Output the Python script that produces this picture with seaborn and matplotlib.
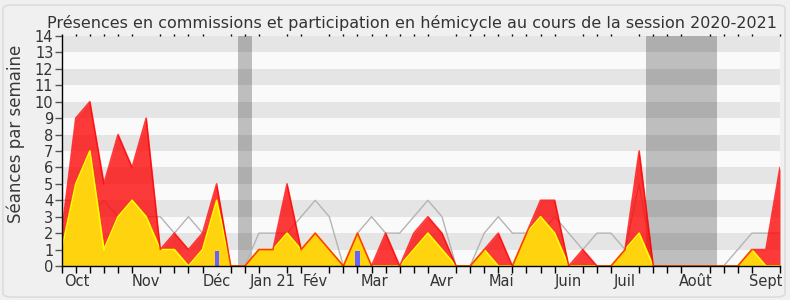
import numpy as np
import pandas as pd
import matplotlib
matplotlib.use("Agg")
import matplotlib.pyplot as plt
import seaborn as sns
from matplotlib.patches import FancyBboxPatch

# ---- data (weekly, session 2020-2021) ----
weeks = list(range(52))
seances_total = [2, 9, 10, 5, 8, 6, 9, 1, 2, 1, 2, 5, 0, 0, 1, 1, 5, 1, 2, 1,
                 0, 2, 0, 2, 0, 2, 3, 2, 0, 0, 1, 2, 0, 2, 4, 4, 0, 1, 0, 0,
                 1, 7, 0, 0, 0, 0, 0, 0, 0, 1, 1, 6]
hemicycle = [1, 5, 7, 1, 3, 4, 3, 1, 1, 0, 1, 4, 0, 0, 1, 1, 2, 1, 2, 1,
             0, 2, 0, 0, 0, 1, 2, 1, 0, 0, 1, 0, 0, 2, 3, 2, 0, 0, 0, 0,
             1, 2, 0, 0, 0, 0, 0, 0, 0, 1, 0, 0]
mediane = [4, 4, 3, 4, 3, 3, 3, 3, 2, 3, 2, 2, 0, 0, 2, 2, 2, 3, 4, 3,
           0, 2, 3, 2, 2, 3, 4, 3, 0, 0, 2, 3, 2, 2, 2, 3, 2, 1, 2, 2,
           1, 5, 0, 0, 0, 0, 0, 0, 1, 2, 2, 2]
questions_weeks = [11, 21]
questions_vals = [0.9, 0.9]
vacances = [(12.5, 13.5), (41.5, 46.5)]
month_labels = ["Oct", "Nov", "Déc", "Jan 21", "Fév", "Mar", "Avr", "Mai",
                "Juin", "Juil", "Août", "Sept"]
month_pos = [1.1, 6, 11, 15, 18, 22.2, 27, 31.2, 36, 40, 45, 50]
title = "Présences en commissions et participation en hémicycle au cours de la session 2020-2021"
ylabel = "Séances par semaine"

df = pd.DataFrame({"semaine": weeks, "total": seances_total,
                   "hemicycle": hemicycle, "mediane": mediane})

sns.set_style("white")
plt.rcParams["font.family"] = ["DejaVu Sans"]

W, H = 790, 300
fig = plt.figure(figsize=(W / 100, H / 100), dpi=100)
fig.patch.set_facecolor("#f0f0f0")
fig.patches.append(FancyBboxPatch((3 / W, 3 / H), 1 - 8 / W, 1 - 8 / H,
                                  boxstyle="round,pad=0,rounding_size=0.012",
                                  transform=fig.transFigure, facecolor="none",
                                  edgecolor="#dcdcdc", lw=1.2))

L, R, B, T = 61.7, 780, 266, 36
ax = fig.add_axes([L / W, 1 - B / H, (R - L) / W, (B - T) / H])
ax.set_facecolor("#fafafa")
for k in range(1, 14, 2):
    ax.axhspan(k, k + 1, color="#e5e5e5", lw=0, zorder=0)
for a, b in vacances:
    ax.axvspan(a, b, color="black", alpha=0.24, lw=0, zorder=0.5)

sns.lineplot(data=df, x="semaine", y="mediane", ax=ax, color="#b4b4b4",
             lw=1, zorder=1)
ax.fill_between(df["semaine"], 0, df["total"], color="#ff0000", alpha=0.77,
                lw=0, zorder=2)
ax.fill_between(df["semaine"], 0, df["hemicycle"], color="#ffd40f",
                lw=0, zorder=3)
sns.lineplot(data=df, x="semaine", y="hemicycle", ax=ax, color="#ffff00",
             lw=1.2, zorder=4)
sns.lineplot(data=df, x="semaine", y="total", ax=ax, color="#ff0000",
             lw=1.2, alpha=0.75, zorder=5)
ax.bar(questions_weeks, questions_vals, width=0.3, color="#6464ff",
       lw=0, zorder=6)

ax.set_xlim(0, 51)
ax.set_ylim(0, 14)
ax.set_yticks(range(0, 15))
ax.set_xticks(month_pos)
ax.set_xticklabels(month_labels)
ax.set_xticks(weeks, minor=True)
ax.tick_params(axis="x", which="major", length=0, pad=6, labelsize=10.5,
               colors="#333333")
ax.tick_params(axis="x", which="minor", length=5, width=1, color="black",
               direction="out", bottom=True, top=True)
ax.tick_params(axis="y", which="major", length=5, width=1, color="#555555",
               direction="out", left=True, labelsize=10.5, pad=1,
               labelcolor="#333333")
for t in ax.xaxis.get_minor_ticks():
    t.tick2line.set_markersize(1.5)
ax.set_xlabel("")
ax.set_ylabel(ylabel, fontsize=12, color="#3a3a3a")
ax.yaxis.set_label_coords((25 - L) / (R - L), (B - 134) / (B - T))
for s in ["top", "right"]:
    ax.spines[s].set_visible(False)
for s in ["left", "bottom"]:
    ax.spines[s].set_color("black")
    ax.spines[s].set_linewidth(1)
    ax.spines[s].set_zorder(7)

fig.text(412 / W, 1 - 28 / H, title, ha="center", va="baseline",
         fontsize=11.5, color="#333333")

fig.savefig("out.png", dpi=100, facecolor=fig.get_facecolor())
